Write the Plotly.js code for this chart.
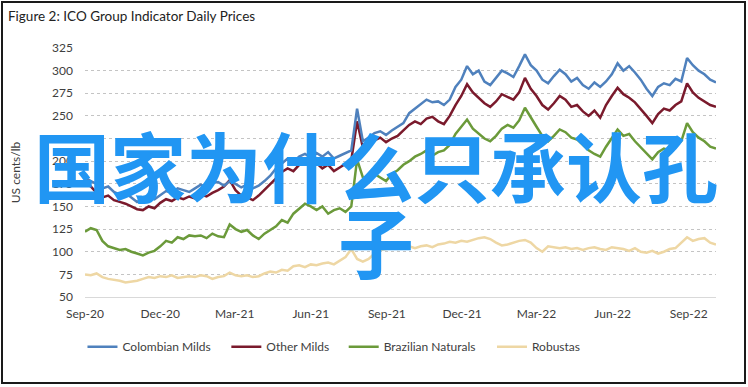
<!DOCTYPE html>
<html>
<head>
<meta charset="utf-8">
<script src="https://cdn.plot.ly/plotly-3.0.1.min.js"></script>
<style>
  html, body { margin: 0; padding: 0; background: #fff; }
  #wrap { position: relative; width: 748px; height: 387px; }
  #chart { position: absolute; left: 0; top: 0; width: 748px; height: 387px; }
  #frame { position: absolute; left: 1px; top: 1px; width: 745px; height: 383px;
           border: 2px solid #1a1a1a; box-sizing: border-box; pointer-events: none; }
</style>
</head>
<body>
<div id="wrap"><div id="chart"></div><div id="frame"></div></div>
<script>
// Weekly observations starting 1 Sep 2020 (US cents/lb)
const startDate = '2020-09-01';
const stepDays = 7;

const colombianMilds = [
  182, 178, 175, 170, 172, 166, 163, 165, 160, 155,
  158, 161, 158, 163, 167, 165, 170, 168, 166, 170,
  174, 171, 176, 177, 173, 178, 175, 171, 174, 170,
  173, 178, 184, 192, 198, 203, 199, 205, 208, 204,
  209, 205, 210, 203, 206, 209, 212, 258, 222, 226,
  231, 233, 229, 234, 238, 242, 253, 258, 262, 268,
  265, 266, 262, 268, 282, 290, 305, 296, 300, 288,
  284, 292, 300, 297, 293, 305, 318, 306, 300, 290,
  286, 294, 301, 296, 288, 292, 284, 280, 287, 282,
  288, 296, 308, 300, 305, 298, 290, 280, 272, 282,
  286, 284, 291, 288, 314, 306, 300, 296, 290, 287
];
const otherMilds = [
  177, 172, 165, 160, 162, 157, 155, 153, 150, 147,
  146, 150, 148, 154, 158, 156, 160, 158, 161, 159,
  163, 161, 165, 168, 172, 179, 168, 162, 160, 157,
  162, 168, 175, 181, 188, 192, 189, 196, 199, 194,
  198, 192, 196, 189, 193, 197, 201, 244, 215, 219,
  223, 226, 221, 225, 228, 234, 240, 244, 241, 247,
  249, 244, 241, 250, 262, 272, 285, 276, 270, 264,
  260, 266, 274, 271, 268, 276, 292, 280, 272, 262,
  257, 264, 272, 268, 260, 262, 255, 250, 256, 248,
  262, 272, 281, 274, 270, 265, 258, 250, 242, 252,
  258, 256, 262, 266, 286, 276, 270, 266, 262, 260
];
const brazilianNaturals = [
  122, 126, 124, 112, 106, 104, 102, 103, 100, 98,
  96, 99, 101, 106, 112, 110, 116, 114, 118, 117,
  118, 115, 120, 117, 116, 130, 125, 122, 124, 118,
  114, 120, 124, 128, 135, 132, 142, 148, 153, 150,
  146, 150, 142, 146, 148, 144, 150, 202, 182, 178,
  186, 182, 178, 186, 190, 196, 200, 205, 208, 212,
  206, 210, 212, 218, 230, 238, 246, 236, 230, 225,
  222, 228, 236, 240, 237, 245, 259, 248, 238, 228,
  222, 228, 235, 232, 226, 224, 218, 212, 208, 205,
  216, 226, 235, 228, 230, 222, 215, 208, 202, 210,
  214, 212, 218, 222, 242, 232, 226, 222, 216, 214
];
const robustas = [
  75, 74, 76, 72, 70, 69, 68, 66, 67, 68,
  70, 72, 71, 73, 72, 74, 71, 72, 73, 72,
  74, 73, 70, 72, 73, 77, 74, 73, 74, 72,
  73, 76, 78, 77, 80, 79, 84, 85, 83, 86,
  85, 87, 88, 86, 90, 94, 103, 92, 89, 92,
  98, 102, 103, 104, 103, 105, 106, 104, 106, 107,
  105, 108, 109, 111, 110, 112, 111, 113, 115, 116,
  114, 110, 107, 108, 110, 112, 113, 110, 104, 100,
  106, 105, 104, 105, 103, 104, 102, 104, 105, 103,
  102, 105, 104, 103, 101, 104, 100, 99, 101, 98,
  100, 103, 104, 110, 116, 112, 114, 115, 110, 108
];

const seriesNames = ['Colombian Milds', 'Other Milds', 'Brazilian Naturals', 'Robustas'];
const seriesColors = ['#4f81bd', '#7a1a2c', '#6b9a3a', '#eed7a4'];

const xTickVals = ['2020-09-01', '2020-12-01', '2021-03-01', '2021-06-01', '2021-09-01',
                   '2021-12-01', '2022-03-01', '2022-06-01', '2022-09-01'];
const xTickText = ['Sep-20', 'Dec-20', 'Mar-21', 'Jun-21', 'Sep-21', 'Dec-21', 'Mar-22', 'Jun-22', 'Sep-22'];
const xRange = ['2020-09-01', '2022-10-04'];
const yRange = [50, 325];

const titleText = 'Figure 2: ICO Group Indicator Daily Prices';
const yTitleText = 'US cents/lb';
const overlayLine1 = '国家为什么只承认孔';
const overlayLine2 = '子';

function dateSeq(n) {
  const out = [];
  const d0 = new Date(startDate + 'T00:00:00Z');
  for (let i = 0; i < n; i++) {
    const d = new Date(d0.getTime() + i * stepDays * 86400000);
    out.push(d.toISOString().slice(0, 10));
  }
  return out;
}
const dates = dateSeq(colombianMilds.length);

const allSeries = [colombianMilds, otherMilds, brazilianNaturals, robustas];
const legendIds = ['legend', 'legend2', 'legend3', 'legend4'];
const legendX = [-0.004, 0.224, 0.41, 0.645];

const traces = allSeries.map((vals, i) => ({
  type: 'scatter', mode: 'lines', x: dates, y: vals,
  name: seriesNames[i], legend: legendIds[i],
  line: { color: seriesColors[i], width: 2.5 },
  hoverinfo: 'skip'
}));
const ordered = [traces[3], traces[2], traces[1], traces[0]];

const textFont = { family: 'Lato, sans-serif', size: 12, color: '#404040' };

function mkLegend(i) {
  return {
    x: legendX[i], y: -0.2, xanchor: 'left', yanchor: 'middle',
    orientation: 'h', bgcolor: 'rgba(0,0,0,0)', borderwidth: 0,
    font: textFont, itemwidth: 30, traceorder: 'normal'
  };
}

const layout = {
  width: 748, height: 387,
  margin: { l: 85, r: 32, t: 48, b: 90 },
  paper_bgcolor: '#ffffff', plot_bgcolor: '#ffffff',
  title: {
    text: titleText, xref: 'container', yref: 'container',
    x: 8 / 748, xanchor: 'left', y: 1 - 16 / 387, yanchor: 'middle',
    font: { family: 'Lato, sans-serif', size: 13.5, color: '#222222' }
  },
  xaxis: {
    type: 'date', range: xRange, tickmode: 'array', tickvals: xTickVals, ticktext: xTickText,
    showgrid: false, zeroline: false, showline: true, linecolor: '#d9d9d9', linewidth: 1,
    ticks: '', ticklabelstandoff: 6, tickfont: textFont, fixedrange: true
  },
  yaxis: {
    range: yRange, tick0: 50, dtick: 25, showgrid: true, gridcolor: '#c4c4c4', griddash: 'dot',
    gridwidth: 1, zeroline: false, showline: false, ticks: '', ticklabelstandoff: 11,
    tickfont: textFont, fixedrange: true,
    title: { text: yTitleText, font: { family: 'Lato, sans-serif', size: 12, color: '#404040' }, standoff: 28 }
  },
  showlegend: true,
  legend: mkLegend(0), legend2: mkLegend(1), legend3: mkLegend(2), legend4: mkLegend(3),
  annotations: [
    { text: overlayLine1, xref: 'paper', yref: 'paper', x: 0.461, y: 0.535, xanchor: 'center', yanchor: 'middle',
      showarrow: false, font: { family: 'Noto Sans CJK SC', size: 76, color: '#2196f3', weight: 700 } },
    { text: overlayLine2, xref: 'paper', yref: 'paper', x: 0.461, y: 0.23, xanchor: 'center', yanchor: 'middle',
      showarrow: false, font: { family: 'Noto Sans CJK SC', size: 76, color: '#2196f3', weight: 700 } }
  ]
};

Plotly.newPlot('chart', ordered, layout, { displayModeBar: false, staticPlot: true });
</script>
</body>
</html>
